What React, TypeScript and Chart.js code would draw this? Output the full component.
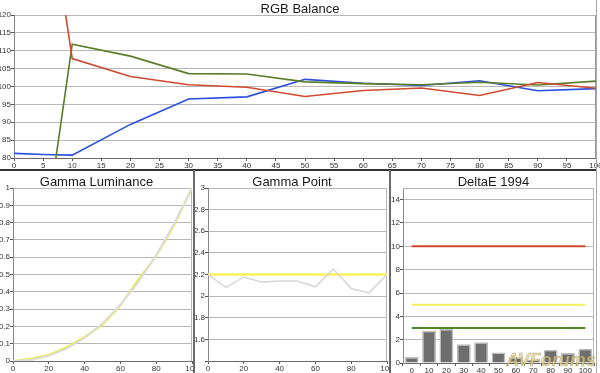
import React, { useEffect, useRef } from 'react';
import { Chart, registerables } from 'chart.js';

Chart.register(...registerables);

// ---- RGB Balance ----
const rgbLevels = [0, 5, 10, 20, 30, 40, 50, 60, 70, 80, 90, 100];
const rgbRed = [150, 162, 107.8, 102.8, 100.5, 99.8, 97.2, 98.9, 99.6, 97.5, 101.1, 99.5];
const rgbGreen = [50, 55, 111.8, 108.5, 103.6, 103.5, 101.3, 100.8, 100.5, 101.2, 100.4, 101.5];
const rgbBlue = [81.3, 81.0, 80.8, 89.4, 96.5, 97.1, 102.0, 100.9, 100.3, 101.6, 98.8, 99.4];

// ---- Gamma Luminance / Gamma Point ----
const levels = [0, 10, 20, 30, 40, 50, 60, 70, 80, 90, 100];
const lumTarget = [0, 0.006, 0.03, 0.071, 0.133, 0.218, 0.325, 0.456, 0.612, 0.793, 1];
const lumMeasured = [0, 0.012, 0.035, 0.08, 0.139, 0.21, 0.32, 0.47, 0.607, 0.785, 1];
const gammaMeasured = [2.2, 2.08, 2.175, 2.13, 2.14, 2.14, 2.086, 2.25, 2.07, 2.03, 2.2];
const gammaTarget = [2.2, 2.2, 2.2, 2.2, 2.2, 2.2, 2.2, 2.2, 2.2, 2.2, 2.2];

// ---- DeltaE 1994 ----
const deltaLabels = ['0', '10', '20', '30', '40', '50', '60', '70', '80', '90', '100'];
const deltaE = [0.51, 2.77, 2.91, 1.6, 1.77, 0.91, 0.49, 0.29, 1.14, 0.86, 1.23];
const deltaLimitRed = [10, 10, 10, 10, 10, 10, 10, 10, 10, 10, 10];
const deltaLimitYellow = [5, 5, 5, 5, 5, 5, 5, 5, 5, 5, 5];
const deltaLimitGreen = [3, 3, 3, 3, 3, 3, 3, 3, 3, 3, 3];

const FONT = '"Liberation Sans", Arial, sans-serif';
const tickFont = { family: FONT, size: 8 };
const fmt = (v: any) => String(Math.round(Number(v) * 10) / 10);

const panelPlugin = {
  id: 'panel',
  beforeDatasetsDraw(chart: any, _a: any, opts: any) {
    const { ctx, chartArea: a } = chart;
    ctx.save();
    ctx.strokeStyle = opts.frameColor || '#b5b5b5';
    ctx.lineWidth = 1;
    ctx.beginPath();
    if (opts.top) {
      ctx.moveTo(a.left, a.top + 0.5);
      ctx.lineTo(a.right, a.top + 0.5);
    }
    ctx.moveTo(a.right - 0.5, a.top);
    ctx.lineTo(a.right - 0.5, a.bottom);
    ctx.stroke();
    ctx.restore();
  },
  afterDraw(chart: any, _a: any, opts: any) {
    const { ctx } = chart;
    ctx.save();
    ctx.font = `13px ${FONT}`;
    ctx.fillStyle = '#1a1a1a';
    ctx.textAlign = 'center';
    ctx.textBaseline = 'alphabetic';
    ctx.fillText(opts.title, chart.width / 2, opts.titleY);
    ctx.restore();
  },
};

function yAxis(w: number, min: number, max: number, step: number, cb?: any) {
  return {
    type: 'linear',
    min,
    max,
    afterFit: (s: any) => {
      s.width = w;
      s.paddingTop = 0;
      s.paddingBottom = 0;
    },
    grid: { color: '#b8b8b8', lineWidth: 1, tickLength: 3, tickColor: '#555' },
    border: { color: '#8a8a8a', width: 1 },
    ticks: {
      stepSize: step,
      includeBounds: false,
      font: tickFont,
      color: '#333',
      padding: 0,
      callback: cb || fmt,
    },
  };
}

function xLinear(h: number, min: number, max: number, step: number) {
  return {
    type: 'linear',
    min,
    max,
    afterFit: (s: any) => {
      s.height = h;
      s.paddingLeft = 0;
      s.paddingRight = 0;
    },
    grid: { drawOnChartArea: false, tickLength: 3, tickColor: '#555' },
    border: { color: '#6a6a6a', width: 1 },
    ticks: { stepSize: step, font: tickFont, color: '#333', padding: 0, maxRotation: 0, autoSkip: false },
  };
}

function pts(xs: number[], ys: number[]) {
  return xs.map((x, i) => ({ x, y: ys[i] }));
}

const baseOpts = (padding: any, plugin: any) => ({
  responsive: false,
  animation: false,
  devicePixelRatio: 1,
  layout: { padding, autoPadding: false },
  plugins: { legend: { display: false }, tooltip: { enabled: false }, title: { display: false }, panel: plugin },
  elements: { point: { radius: 0 }, line: { tension: 0 } },
});

const rgbConfig = () => ({
  type: 'line',
  data: {
    datasets: [
      { data: pts(rgbLevels, rgbRed), borderColor: '#cf4a30', borderWidth: 1.6 },
      { data: pts(rgbLevels, rgbGreen), borderColor: '#5a7d2a', borderWidth: 1.6 },
      { data: pts(rgbLevels, rgbBlue), borderColor: '#2a4ee0', borderWidth: 1.6 },
    ],
  },
  options: {
    ...baseOpts({ top: 15, right: 4, left: 0, bottom: 0 }, { title: 'RGB Balance', titleY: 13, top: false, frameColor: '#9a9a9a' }),
    scales: {
      x: xLinear(11, 0, 100, 5),
      y: yAxis(14, 80, 120, 5),
    },
  },
  plugins: [panelPlugin],
});

const lumConfig = () => ({
  type: 'line',
  data: {
    datasets: [
      { data: pts(levels, lumTarget), borderColor: '#dcdcdc', borderWidth: 2 },
      { data: pts(levels, lumMeasured), borderColor: '#ecea4e', borderWidth: 2.2 },
    ],
  },
  options: {
    ...baseOpts({ top: 17, right: 1, left: 0, bottom: 0 }, { title: 'Gamma Luminance', titleY: 15, top: false }),
    scales: {
      x: xLinear(12, 0, 100, 20),
      y: yAxis(13, 0, 1, 0.1),
    },
  },
  plugins: [panelPlugin],
});

const gammaConfig = () => ({
  type: 'line',
  data: {
    datasets: [
      { data: pts(levels, gammaMeasured), borderColor: '#d6d6d6', borderWidth: 1.5 },
      { data: pts(levels, gammaTarget), borderColor: '#f5f25a', borderWidth: 2.5 },
    ],
  },
  options: {
    ...baseOpts({ top: 17, right: 2, left: 0, bottom: 0 }, { title: 'Gamma Point', titleY: 15, top: false }),
    scales: {
      x: xLinear(12, 0, 100, 20),
      y: yAxis(13, 1.4, 3, 0.2, (v: any) => (v < 1.5 ? '' : fmt(v))),
    },
  },
  plugins: [panelPlugin],
});

const deltaConfig = () => ({
  type: 'bar',
  data: {
    labels: deltaLabels,
    datasets: [
      { type: 'line', data: deltaLimitRed, borderColor: '#d2472e', borderWidth: 2, order: 0 },
      { type: 'line', data: deltaLimitYellow, borderColor: '#f3ef5a', borderWidth: 2, order: 0 },
      { type: 'line', data: deltaLimitGreen, borderColor: '#4f8a2a', borderWidth: 2, order: 0 },
      {
        type: 'bar',
        data: deltaE,
        backgroundColor: '#6e6e6e',
        borderColor: '#bdbdbd',
        borderWidth: 1.5,
        barPercentage: 0.8,
        categoryPercentage: 1,
        order: 1,
      },
    ],
  },
  options: {
    ...baseOpts({ top: 17, right: 2, left: 0, bottom: 0 }, { title: 'DeltaE 1994', titleY: 15, top: true }),
    scales: {
      x: {
        type: 'category',
        afterFit: (s: any) => {
          s.height = 10;
          s.paddingLeft = 0;
          s.paddingRight = 0;
        },
        grid: { drawOnChartArea: false, tickLength: 3, tickColor: '#555', offset: true },
        border: { color: '#6a6a6a', width: 1 },
        ticks: { font: tickFont, color: '#333', padding: 0, maxRotation: 0, autoSkip: false },
      },
      y: yAxis(12, 0, 15, 2),
    },
  },
  plugins: [panelPlugin],
});

function ChartBox(props: { left: number; top: number; width: number; height: number; config: () => any }) {
  const ref = useRef<HTMLCanvasElement>(null);
  useEffect(() => {
    const chart = new Chart(ref.current as HTMLCanvasElement, props.config());
    return () => chart.destroy();
  }, []);
  return (
    <canvas
      ref={ref}
      width={props.width}
      height={props.height}
      style={{ position: 'absolute', left: props.left, top: props.top, width: props.width, height: props.height }}
    />
  );
}

export default function App() {
  return (
    <div style={{ position: 'fixed', left: 0, top: 0, width: 600, height: 373, background: '#fff', overflow: 'hidden' }}>
      <ChartBox left={0} top={0} width={600} height={169} config={rgbConfig} />
      <ChartBox left={0} top={171} width={193} height={202} config={lumConfig} />
      <ChartBox left={195} top={171} width={194} height={202} config={gammaConfig} />
      <ChartBox left={391} top={171} width={205} height={202} config={deltaConfig} />
      <div style={{ position: 'absolute', left: 0, top: 169, width: 597, height: 2, background: '#333' }} />
      <div style={{ position: 'absolute', left: 193, top: 170, width: 2, height: 203, background: '#6a6a6a' }} />
      <div style={{ position: 'absolute', left: 389, top: 170, width: 2, height: 203, background: '#6a6a6a' }} />
      <div style={{ position: 'absolute', left: 596, top: 0, width: 1, height: 373, background: '#a8a8a8' }} />
      <div
        style={{
          position: 'absolute',
          left: 506,
          top: 350,
          font: `italic bold 18px ${FONT}`,
          color: 'rgba(222,205,130,0.7)',
          WebkitTextStroke: '0.5px rgba(110,95,60,0.45)',
          whiteSpace: 'nowrap',
        }}
      >
        AVForums
      </div>
    </div>
  );
}
